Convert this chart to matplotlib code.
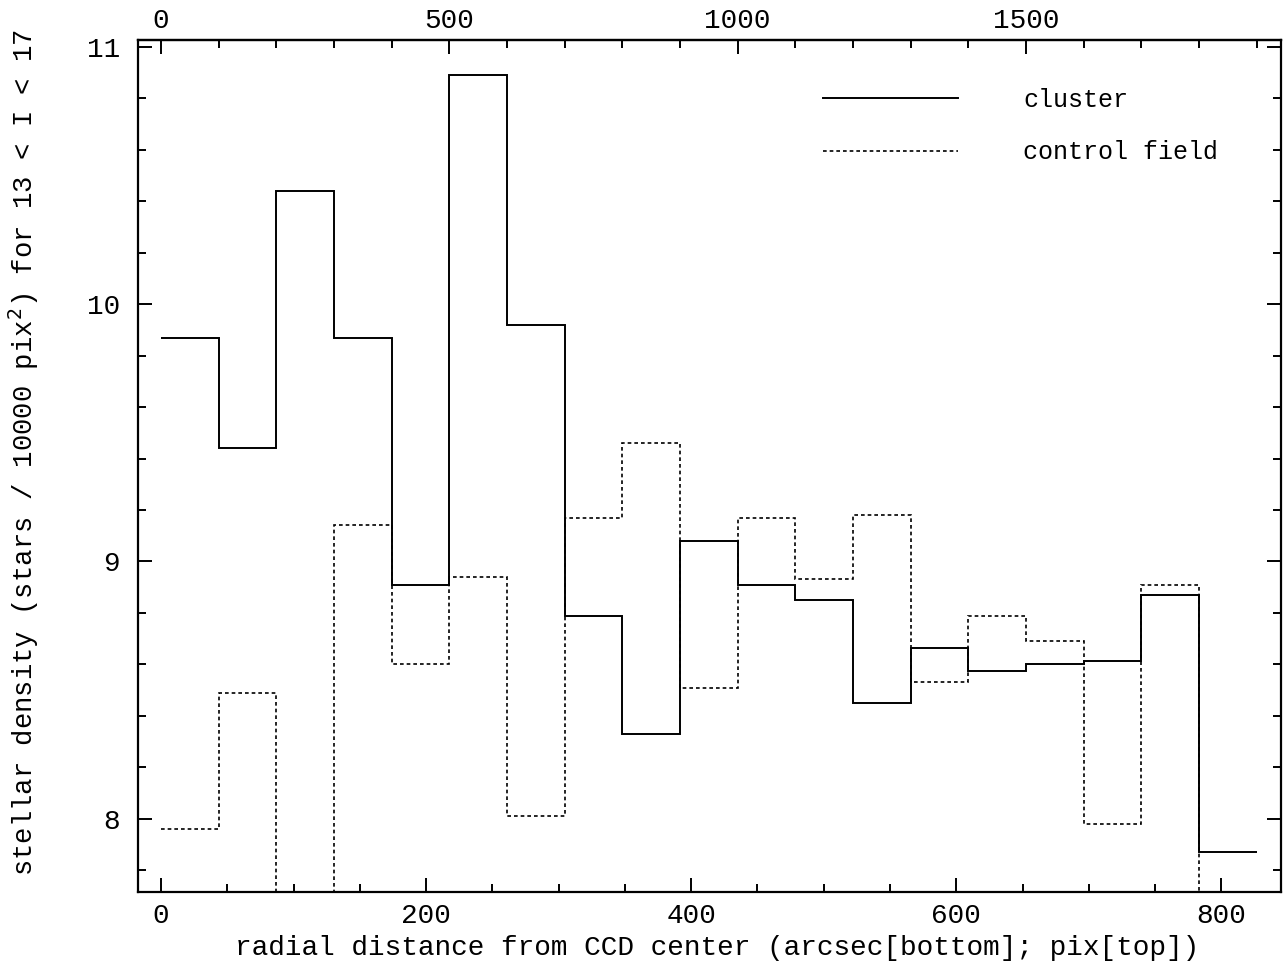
import matplotlib
matplotlib.use("Agg")
import matplotlib.pyplot as plt
from matplotlib.ticker import MultipleLocator, FixedLocator

plt.rcParams['font.family'] = ['Liberation Mono', 'DejaVu Sans']

# radial bins, 100 pix wide; 0.435 arcsec per pix
arcsec_per_pix = 0.435
bin_edges_pix = list(range(0, 2000, 100))
bin_edges = [p * arcsec_per_pix for p in bin_edges_pix]

# stellar density per bin (stars / 10000 pix^2), 13 < I < 17
cluster = [9.87, 9.44, 10.44, 9.87, 8.91, 10.89, 9.92, 8.79, 8.33, 9.08,
           8.91, 8.85, 8.45, 8.665, 8.575, 8.60, 8.615, 8.87, 7.87]
control = [7.96, 8.49, 7.60, 9.14, 8.60, 8.94, 8.01, 9.17, 9.46, 8.51,
           9.17, 8.93, 9.18, 8.53, 8.79, 8.69, 7.98, 8.91, 7.60]

fig = plt.figure(figsize=(12.86, 9.72), dpi=100)
ax = fig.add_axes([138.3 / 1286, 1 - 891.7 / 972, 1142.2 / 1286, 851.7 / 972])

ax.stairs(cluster, bin_edges, baseline=None, color='black', lw=1.4, label='cluster')
ax.stairs(control, bin_edges, baseline=None, color='black', lw=1.2,
          linestyle=(0, (2.2, 1.8)), label='control field')

ax.set_xlim(-17.1, 844.6)
ax.set_ylim(7.717, 11.026)

ax.xaxis.set_major_locator(MultipleLocator(200))
ax.xaxis.set_minor_locator(MultipleLocator(50))
ax.yaxis.set_major_locator(MultipleLocator(1))
ax.yaxis.set_minor_locator(MultipleLocator(0.2))
ax.tick_params(which='both', direction='in', right=True, top=False, width=1.4)
ax.tick_params(which='major', length=10, labelsize=20)
ax.tick_params(which='minor', length=5.5)
ax.tick_params(axis='x', pad=8)
ax.tick_params(axis='y', pad=13)

top = ax.secondary_xaxis('top', functions=(lambda a: a / arcsec_per_pix,
                                           lambda p: p * arcsec_per_pix))
top.xaxis.set_major_locator(FixedLocator([0, 500, 1000, 1500]))
top.xaxis.set_minor_locator(FixedLocator(list(range(0, 2000, 100))))
top.tick_params(which='both', direction='in', width=1.4, pad=4)
top.tick_params(which='major', length=10, labelsize=20)
top.tick_params(which='minor', length=5.5)

for s in ax.spines.values():
    s.set_linewidth(1.6)
top.spines['top'].set_linewidth(1.6)

ax.set_xlabel('radial distance from CCD center (arcsec[bottom]; pix[top])', fontsize=20)
ax.set_ylabel('stellar density (stars / 10000 pix$^2$) for 13 < I < 17', fontsize=19.6)
ax.xaxis.set_label_coords(0.507, -0.051)
ax.yaxis.set_label_coords(-0.085, 0.516)

ax.legend(loc='upper left', bbox_to_anchor=(0.5995, 0.944), frameon=False,
          fontsize=18, handlelength=5.4, handletextpad=2.6, labelspacing=1.15,
          borderpad=0, borderaxespad=0)

fig.savefig('out.png', dpi=100)
